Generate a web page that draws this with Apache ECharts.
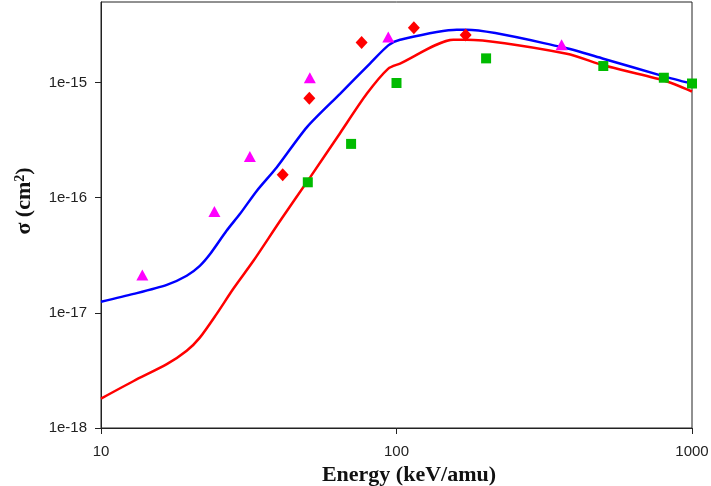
<!DOCTYPE html>
<html>
<head>
<meta charset="utf-8">
<script src="https://cdn.jsdelivr.net/npm/echarts@6/dist/echarts.min.js"></script>
<style>html,body{margin:0;padding:0;background:#fff}#c{width:711px;height:486px}</style>
</head>
<body>
<div id="c"></div>
<script>
// Blue curve
const blueE = [10, 12.9, 16.7, 19.5, 21.6, 23.4, 26.6, 29.5, 33.7, 39.3, 49.7, 64.4, 81.3, 93.8, 102.8, 159.9, 172.8, 362, 501, 804, 1000];
const blueS = [1.25e-17, 1.46e-17, 1.75e-17, 2.10e-17, 2.56e-17, 3.24e-17, 5.16e-17, 7.2e-17, 1.15e-16, 1.83e-16, 4.08e-16, 7.97e-16, 1.46e-15, 2.10e-15, 2.35e-15, 2.87e-15, 2.87e-15, 2.03e-15, 1.61e-15, 1.13e-15, 9.75e-16];
// Red curve
const redE = [10, 12.9, 16.7, 19.5, 21.6, 24.6, 28.0, 32.8, 40.4, 51.0, 64.4, 79.3, 93.8, 102.8, 155.7, 172.8, 377, 501, 804, 1000];
const redS = [1.8e-18, 2.56e-18, 3.58e-18, 4.68e-18, 6.09e-18, 9.75e-18, 1.61e-17, 2.83e-17, 6.3e-17, 1.50e-16, 3.63e-16, 7.97e-16, 1.32e-15, 1.46e-15, 2.35e-15, 2.35e-15, 1.78e-15, 1.41e-15, 1.04e-15, 8.35e-16];
// Magenta triangles
const triE = [13.8, 24.2, 31.9, 50.9, 93.8, 362];
const triS = [2.13e-17, 7.6e-17, 2.28e-16, 1.10e-15, 2.48e-15, 2.13e-15];
// Red diamonds
const diaE = [41.2, 50.7, 76.2, 114.5, 171.4];
const diaS = [1.58e-16, 7.3e-16, 2.23e-15, 2.99e-15, 2.58e-15];
// Green squares
const sqE = [50.1, 70.2, 100, 201, 501, 803, 1000];
const sqS = [1.36e-16, 2.93e-16, 9.9e-16, 1.62e-15, 1.39e-15, 1.10e-15, 9.8e-16];
// Axis ticks
const xTicks = [10, 100, 1000];
const yTicks = [1e-18, 1e-17, 1e-16, 1e-15];

const zip = (a, b) => a.map((v, i) => [v, b[i]]);
const chart = echarts.init(document.getElementById('c'));
const labelStyle = {fontFamily: 'Liberation Sans, Arial', fontSize: 15, color: '#222'};
chart.setOption({
  animation: false,
  backgroundColor: '#fff',
  grid: {left: 101, right: 19, top: 2, bottom: 58, show: true, borderColor: '#222', borderWidth: 1, containLabel: false, outerBoundsMode: 'none'},
  xAxis: {
    type: 'log', logBase: 10, min: 10, max: 1000, interval: 1,
    name: 'Energy (keV/amu)', nameLocation: 'middle', nameGap: 31,
    nameTextStyle: {fontFamily: 'Liberation Serif', fontWeight: 'bold', fontSize: 22, color: '#111', padding: [0, 0, 0, 25]},
    axisLine: {show: true, lineStyle: {color: '#222', width: 1}},
    axisTick: {show: true, length: 6, lineStyle: {color: '#222'}, customValues: xTicks},
    axisLabel: Object.assign({margin: 16, customValues: xTicks, formatter: v => String(Math.round(v))}, labelStyle),
    splitLine: {show: false}, minorTick: {show: false}
  },
  yAxis: {
    type: 'log', logBase: 10, min: 1e-18, max: 5e-15, interval: 1,
    name: 'σ (cm{sup|2})', nameLocation: 'middle', nameGap: 66, nameRotate: 90,
    nameTextStyle: {fontFamily: 'Liberation Serif', fontWeight: 'bold', fontSize: 22, color: '#111', padding: [0, 0, 0, 28],
      rich: {sup: {fontFamily: 'Liberation Serif', fontWeight: 'bold', fontSize: 14, color: '#111', verticalAlign: 'top', padding: [0, 0, 8, 0]}}},
    axisLine: {show: true, lineStyle: {color: '#222', width: 1}},
    axisTick: {show: true, length: 6, lineStyle: {color: '#222'}, customValues: yTicks},
    axisLabel: Object.assign({margin: 14, customValues: yTicks, formatter: v => '1e' + Math.round(Math.log10(v))}, labelStyle),
    splitLine: {show: false}, minorTick: {show: false}
  },
  series: [
    {type: 'line', data: zip(blueE, blueS), showSymbol: false, smooth: 0.25, lineStyle: {color: '#0000ff', width: 2.5}, z: 2},
    {type: 'line', data: zip(redE, redS), showSymbol: false, smooth: 0.25, lineStyle: {color: '#ff0000', width: 2.5}, z: 2},
    {type: 'scatter', data: zip(triE, triS), symbol: 'triangle', symbolSize: [12, 11], itemStyle: {color: '#ff00ff', opacity: 1}, z: 3},
    {type: 'scatter', data: zip(diaE, diaS), symbol: 'diamond', symbolSize: [12, 13], itemStyle: {color: '#ff0000', opacity: 1}, z: 3},
    {type: 'scatter', data: zip(sqE, sqS), symbol: 'rect', symbolSize: 10, itemStyle: {color: '#00bb00', opacity: 1}, z: 3}
  ]
});
</script>
</body>
</html>
